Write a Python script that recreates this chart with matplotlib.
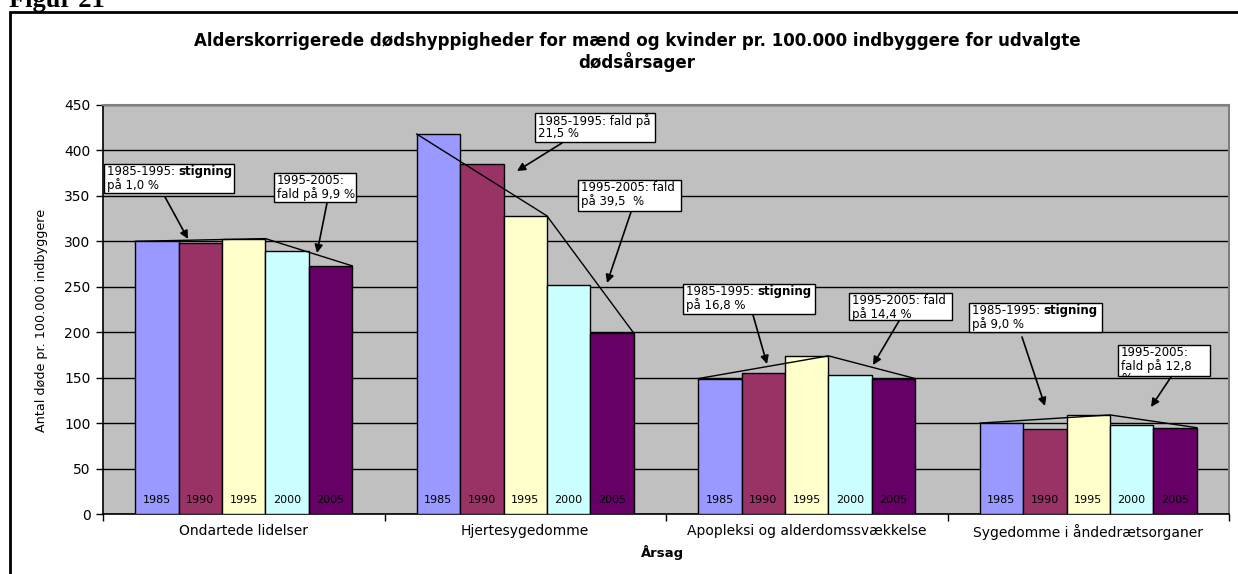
import matplotlib
matplotlib.use("Agg")
import matplotlib.pyplot as plt
from matplotlib.patches import Rectangle
from matplotlib.text import Annotation
import numpy as np

# ---------------- data ----------------
categories = ["Ondartede lidelser", "Hjertesygedomme",
              "Apopleksi og alderdomssvækkelse", "Sygedomme i åndedrætsorganer"]
years = ["1985", "1990", "1995", "2000", "2005"]
v1985 = [300, 418, 149, 100]
v1990 = [298, 385, 155, 93]
v1995 = [303, 328, 174, 109]
v2000 = [289, 252, 153, 98]
v2005 = [273, 199, 149, 95]
yticks = [0, 50, 100, 150, 200, 250, 300, 350, 400, 450]

title = ("Alderskorrigerede dødshyppigheder for mænd og kvinder pr. 100.000 indbyggere for udvalgte\n"
         "dødsårsager")
ylabel = "Antal døde pr. 100.000 indbyggere"
xlabel = "Årsag"

# annotation boxes: (x0, y0, x1, y1) in pixels from top-left, lines of (text, bold) segments
notes = [
    ((104, 164, 234, 193), [[("1985-1995: ", False), ("stigning", True)], [("på 1,0 %", False)]]),
    ((274, 173, 356, 202), [[("1995-2005:", False)], [("fald på 9,9 %", False)]]),
    ((535, 113, 655, 142), [[("1985-1995: fald på", False)], [("21,5 %", False)]]),
    ((578, 180, 681, 211), [[("1995-2005: fald", False)], [("på 39,5  %", False)]]),
    ((683, 284, 815, 314), [[("1985-1995: ", False), ("stigning", True)], [("på 16,8 %", False)]]),
    ((849, 293, 952, 320), [[("1995-2005: fald", False)], [("på 14,4 %", False)]]),
    ((969, 303, 1102, 332), [[("1985-1995: ", False), ("stigning", True)], [("på 9,0 %", False)]]),
    ((1118, 345, 1210, 376), [[("1995-2005:", False)], [("fald på 12,8", False)], [("%", False)]]),
]
arrows = [
    ((165, 197), (188, 239)),
    ((327, 203), (317, 253)),
    ((562, 143), (517, 171)),
    ((631, 212), (607, 283)),
    ((753, 315), (767, 364)),
    ((899, 321), (873, 365)),
    ((1022, 337), (1045, 406)),
    ((1171, 377), (1151, 407)),
]

# ---------------- style ----------------
colors = ["#9999FF", "#993366", "#FFFFCC", "#CCFFFF", "#660066"]
W, H = 1238, 574
plt.rcParams['font.family'] = ['DejaVu Sans']

fig = plt.figure(figsize=(W / 100, H / 100), dpi=100)
ax = fig.add_axes([103 / W, 1 - 514 / H, (1229 - 103) / W, (514 - 105) / H])
ax.set_facecolor("#C0C0C0")

series = [v1985, v1990, v1995, v2000, v2005]
x = np.arange(len(categories))
bw = 43.4 / 281.5
for i, (vals, col) in enumerate(zip(series, colors)):
    pos = x + (i - 2) * bw
    ax.bar(pos, vals, width=bw, color=col, edgecolor="black", linewidth=1.0, zorder=3)
    for p in pos:
        ax.text(p, 15, years[i], ha="center", va="center", fontsize=8, color="black", zorder=4)

# trend lines
for j in range(len(categories)):
    xs = [x[j] - 2.5 * bw, x[j] + 0.5 * bw, x[j] + 2.5 * bw]
    ys = [v1985[j], v1995[j], v2005[j]]
    ax.plot(xs, ys, color="black", lw=1.0, zorder=5)

ax.set_xlim(-0.5, len(categories) - 0.5)
ax.set_ylim(0, 450)
ax.set_yticks(yticks)
ax.set_yticklabels([str(t) for t in yticks], fontsize=10)
ax.yaxis.grid(True, color="black", lw=1.0, zorder=0)
ax.set_axisbelow(True)
ax.set_xticks(x)
ax.set_xticklabels(categories, fontsize=10)
ax.set_xticks(np.arange(-0.5, len(categories) + 0.5, 1), minor=True)
ax.tick_params(axis="x", which="major", length=0, pad=7)
ax.tick_params(axis="x", which="minor", length=5, direction="out", width=1)
ax.tick_params(axis="y", length=5, direction="out", width=1, pad=4)
for s in ["top", "right"]:
    ax.spines[s].set_color("#808080")
    ax.spines[s].set_linewidth(1.5)
for s in ["left", "bottom"]:
    ax.spines[s].set_color("black")
    ax.spines[s].set_linewidth(1.2)

def fp(px, py):
    return (px / W, 1 - py / H)

fig.text(*fp(637, 52), title, ha="center", va="center", fontsize=12, fontweight="bold",
         linespacing=1.15)
fig.text(*fp(42, 320), ylabel, rotation=90, ha="center", va="center", fontsize=9.2)
fig.text(*fp(663, 552), xlabel, ha="center", va="center", fontsize=9.5, fontweight="bold")
fig.text(9 / W, 1 - 7 / H, "Figur 21", ha="left", va="baseline", fontsize=19,
         fontweight="bold", family=["Liberation Serif", "DejaVu Serif"])

# outer frame
fig.patches.append(Rectangle(fp(10, 600), 1.5, (600 - 12) / H, transform=fig.transFigure,
                             fill=False, edgecolor="black", lw=2))

# annotation boxes
for (x0, y0, x1, y1), lines in notes:
    rect = Rectangle(fp(x0, y1), (x1 - x0) / W, (y1 - y0) / H, transform=fig.transFigure,
                     facecolor="white", edgecolor="black", lw=1.0, zorder=10)
    fig.add_artist(rect)
    for k, segs in enumerate(lines):
        prev = None
        for txt, bold in segs:
            fw = "bold" if bold else "normal"
            if prev is None:
                t = fig.text(*fp(x0 + 3, y0 + 1 + k * 13), txt, ha="left", va="top",
                             fontsize=8.5, fontweight=fw, zorder=11)
            else:
                t = Annotation(txt, xy=(1, 0), xycoords=prev, ha="left", va="bottom",
                               fontsize=8.5, fontweight=fw, annotation_clip=False, zorder=11)
                fig.add_artist(t)
            t.set_clip_path(rect)
            prev = t

for (sx, sy), (ex, ey) in arrows:
    a = Annotation("", xy=(ex, H - ey), xycoords="figure pixels",
                   xytext=(sx, H - sy), textcoords="figure pixels",
                   arrowprops=dict(arrowstyle="-|>", color="black", lw=1.2,
                                   mutation_scale=12, shrinkA=0, shrinkB=0),
                   annotation_clip=False, zorder=12)
    fig.add_artist(a)

fig.savefig("out.png", dpi=100)
